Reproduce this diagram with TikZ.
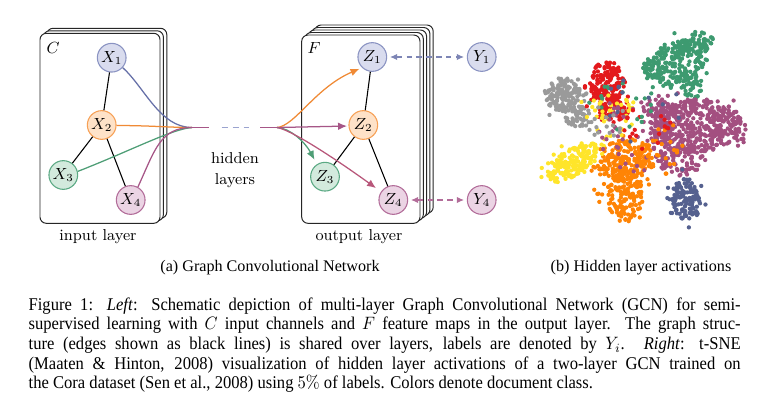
\documentclass[tikz,border=0pt]{standalone}
\usepackage{fontspec}
\usepackage{graphicx}
\newfontfamily\capfont{Liberation Serif}
\usetikzlibrary{arrows.meta}
\definecolor{bluefill}{HTML}{D9DCEE}
\definecolor{bluedraw}{HTML}{8A93C2}
\definecolor{blueline}{HTML}{6670A8}
\definecolor{orangefill}{HTML}{FEE2C8}
\definecolor{orangedraw}{HTML}{F7A055}
\definecolor{orangeline}{HTML}{F08A35}
\definecolor{greenfill}{HTML}{D3EADD}
\definecolor{greendraw}{HTML}{5AA983}
\definecolor{greenline}{HTML}{4E9E76}
\definecolor{mauvefill}{HTML}{EBD4E4}
\definecolor{mauvedraw}{HTML}{B26C99}
\definecolor{mauveline}{HTML}{A65687}
\definecolor{redline}{HTML}{B8577A}
\definecolor{hiddash}{HTML}{9AA3CF}
\definecolor{tgreen}{HTML}{3D9A70}
\definecolor{tred}{HTML}{E3191C}
\definecolor{tgray}{HTML}{9A9A9A}
\definecolor{tmauve}{HTML}{A34F80}
\definecolor{torange}{HTML}{FF8405}
\definecolor{tyellow}{HTML}{FFE52A}
\definecolor{tblue}{HTML}{55618F}
\newcommand\tblob[7]{%
  \foreach \k in {1,...,#7}{%
    \pgfmathsetmacro\br{sqrt(rnd)}%
    \pgfmathsetmacro\ba{360*rnd}%
    \pgfmathsetmacro\bu{#4*\br*cos(\ba)}%
    \pgfmathsetmacro\bv{#5*\br*sin(\ba)}%
    \pgfmathsetmacro\bx{#2+(\bu)*cos(#6)-(\bv)*sin(#6)}%
    \pgfmathsetmacro\by{#3+(\bu)*sin(#6)+(\bv)*cos(#6)}%
    \fill[#1] (\bx,\by) circle[radius=1.2pt];
  }%
}
\tikzset{
  card/.style={draw=black!85, fill=white, line width=0.55pt, rounded corners=3.5pt},
  vtx/.style={circle, minimum size=16pt, inner sep=0pt, line width=0.6pt, font=\fontsize{8.8}{10}\selectfont},
  vblue/.style={vtx, draw=bluedraw, fill=bluefill},
  vorange/.style={vtx, draw=orangedraw, fill=orangefill},
  vgreen/.style={vtx, draw=greendraw, fill=greenfill},
  vmauve/.style={vtx, draw=mauvedraw, fill=mauvefill},
  lbl/.style={inner sep=0pt, font=\fontsize{8.8}{11.7}\selectfont, align=center},
  sublbl/.style={inner sep=0pt, anchor=base, font=\capfont\fontsize{9}{11}\selectfont},
  gedge/.style={line width=0.6pt, black},
  feed/.style={line width=0.7pt},
  arr/.style={-{Latex[length=5pt,width=4.2pt]}},
  labarr/.style={line width=0.6pt, dash pattern=on 3pt off 2.5pt, {Latex[length=4pt,width=3.6pt]}-{Latex[length=4pt,width=3.6pt]}, shorten <=1.6pt, shorten >=1.6pt}
}
\begin{document}
\begin{tikzpicture}[x=0.5576pt, y=-0.5576pt]
\useasboundingbox (0,0) rectangle (759,402);
% input stack
\foreach \k in {2,1,0}
  \draw[card] ({40+3.4*\k},{33.3-2.5*\k}) rectangle ({160+3.4*\k},{223.3-2.5*\k});
% output stack
\foreach \k in {4,3,2,1,0}
  \draw[card] ({301.7+3.3*\k},{35-2.5*\k}) rectangle ({420+3.3*\k},{223.3-2.5*\k});
% nodes
\node[vblue] (X1) at (111.7,57.7) {$X_1$};
\node[vorange] (X2) at (101.7,125) {$X_2$};
\node[vgreen] (X3) at (63.3,175) {$X_3$};
\node[vmauve] (X4) at (130.7,200) {$X_4$};
\node[vblue] (Z1) at (372.3,57) {$Z_1$};
\node[vorange] (Z2) at (363.3,125) {$Z_2$};
\node[vgreen] (Z3) at (325,176.7) {$Z_3$};
\node[vmauve] (Z4) at (393.3,200) {$Z_4$};
\node[vblue] (Y1) at (481.7,57) {$Y_1$};
\node[vmauve] (Y4) at (481.7,200) {$Y_4$};
\node[lbl] (lC) at (53,48) {$C$};
\node[lbl] (lF) at (314,48) {$F$};
\node[lbl] (inl) at (98,237) {input layer};
\node[lbl] (outl) at (359,237) {output layer};
\node[lbl] (hid) at (235,170.5) {hidden\\layers};
% graph edges
\draw[gedge] (X1) -- (X2);
\draw[gedge] (X2) -- (X3);
\draw[gedge] (X2) -- (X4);
\draw[gedge] (Z1) -- (Z2);
\draw[gedge] (Z2) -- (Z3);
\draw[gedge] (Z2) -- (Z4);
% feed lines
\coordinate (P) at (192,127.5);
\coordinate (Pe) at (208.5,127.5);
\coordinate (D1) at (221.7,127.5);
\coordinate (D2) at (249,127.5);
\coordinate (Q0) at (260,127.5);
\coordinate (Q) at (277,127.5);
\draw[feed, blueline] (X1.-42) .. controls (145,88) and (160,127.5) .. (P);
\draw[feed, orangeline] (X2.-2) .. controls (150,125.5) and (170,127.5) .. (P);
\draw[feed, greenline] (X3.14) .. controls (130,151) and (172,129) .. (P);
\draw[feed, mauveline] (X4.61) .. controls (155,150) and (160,127.5) .. (P);
\draw[feed, mauveline] (P) -- (Pe);
\draw[feed, hiddash, dash pattern=on 3.5pt off 2.6pt] (D1) -- (D2);
\draw[feed, mauveline] (Q0) -- (Q);
\draw[feed, orangeline, arr, shorten >=1.5pt] (Q) .. controls (295,126) and (315,88) .. (Z1.226);
\draw[feed, greenline, arr, shorten >=2.8pt] (Q) .. controls (290,128) and (305,142) .. (Z3.123);
\draw[feed, redline, arr, shorten >=3.4pt] (Q) .. controls (290,129.5) and (330,155) .. (Z4.146);
\draw[feed, mauveline, arr, shorten >=0.8pt] (Q) -- (Z2.184);
% label arrows
\draw[labarr, blueline!85] (Z1) -- (Y1);
\draw[labarr, mauvedraw] (Z4) -- (Y4);
% t-SNE
\pgfmathsetseed{7}
\tblob{tgray}{563}{95}{18}{17}{0}{120}
\tblob{tgray}{578}{117}{13}{11}{0}{45}
\tblob{tgray}{565}{100}{26}{25}{0}{25}
\tblob{tred}{607}{84}{17}{23}{0}{160}
\tblob{tred}{613}{112}{16}{12}{0}{55}
\tblob{tred}{608}{92}{24}{32}{0}{25}
\tblob{tgreen}{677}{63}{33}{21}{-25}{190}
\tblob{tgreen}{695}{44}{19}{10}{-15}{60}
\tblob{tgreen}{692}{86}{11}{13}{0}{40}
\tblob{tgreen}{651}{71}{11}{11}{0}{30}
\tblob{tgreen}{677}{63}{44}{30}{-25}{30}
\tblob{tmauve}{695}{126}{47}{27}{-5}{430}
\tblob{tmauve}{681}{161}{23}{15}{0}{80}
\tblob{tmauve}{659}{111}{16}{16}{0}{60}
\tblob{tmauve}{690}{130}{60}{40}{-5}{60}
\tblob{torange}{626}{160}{29}{21}{-10}{200}
\tblob{torange}{625}{195}{18}{27}{0}{140}
\tblob{torange}{626}{178}{36}{44}{0}{35}
\tblob{tyellow}{573}{162}{30}{13}{-35}{170}
\tblob{tyellow}{573}{160}{38}{20}{-35}{25}
\tblob{tblue}{686}{199}{14}{23}{-10}{115}
\tblob{tblue}{686}{199}{20}{30}{-10}{20}
% mixing dots
\tblob{tyellow}{605}{115}{34}{24}{0}{35}
\tblob{tmauve}{632}{135}{38}{40}{0}{45}
\tblob{torange}{660}{150}{24}{32}{0}{22}
\tblob{tred}{645}{128}{26}{26}{0}{18}
\tblob{tgreen}{620}{110}{34}{28}{0}{18}
\tblob{tblue}{640}{110}{44}{34}{0}{12}
\tblob{tgray}{600}{120}{28}{18}{0}{18}
% sub-captions
\node[sublbl] (capa) at (270,271.7) {(a) Graph Convolutional Network};
\node[sublbl] (capb) at (641,271.7) {(b) Hidden layer activations};
% caption
\node[anchor=base west, inner sep=0pt] (cap) at (28.3,310) {\scalebox{0.925}[1]{\parbox[t]{429.2pt}{\capfont\fontsize{10}{11}\selectfont\tolerance=9999\hyphenpenalty=10000\emergencystretch=5pt
Figure 1: \textit{Left}: Schematic depiction of multi-layer Graph Convolutional Network (GCN) for semi-\linebreak
supervised learning with $C$ input channels and $F$ feature maps in the output layer. The graph struc-\linebreak
ture (edges shown as black lines) is shared over layers, labels are denoted by $Y_i$. \textit{Right}: t-SNE\linebreak
(Maaten \& Hinton, 2008) visualization of hidden layer activations of a two-layer GCN trained on\linebreak
the Cora dataset (Sen et al., 2008) using $5\%$ of labels. Colors denote document class.}}};
\end{tikzpicture}
\end{document}
